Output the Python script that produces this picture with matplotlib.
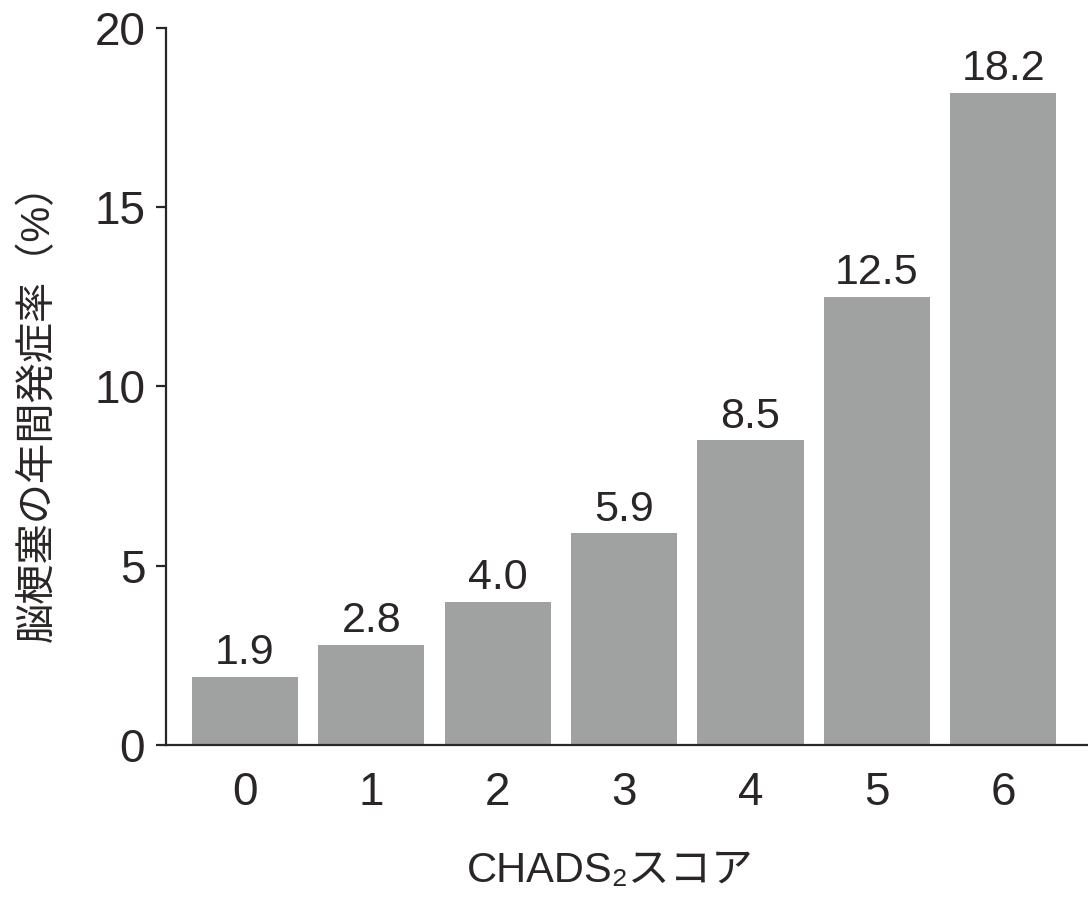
import matplotlib.pyplot as plt

# CHADS2 score vs annual stroke incidence
scores = ['0', '1', '2', '3', '4', '5', '6']
rates = [1.9, 2.8, 4.0, 5.9, 8.5, 12.5, 18.2]
yticks = [0, 5, 10, 15, 20]

plt.rcParams['font.family'] = ['Liberation Sans', 'Noto Sans CJK JP', 'DejaVu Sans']
ink = '#2b2626'
bar_col = '#a0a2a1'

fig = plt.figure(figsize=(10.88, 8.97), dpi=100)
ax = fig.add_axes([0.1526, 0.1695, 0.8474, 0.7993])

x = range(len(scores))
ax.bar(x, rates, width=0.84, color=bar_col)
for xi, r in zip(x, rates):
    ax.text(xi, r + 0.1, f'{r:.1f}', ha='center', va='bottom', fontsize=31, color=ink)

ax.set_xlim(-0.625, 6.67)
ax.set_ylim(0, 20)
ax.set_yticks(yticks)
ax.set_xticks(list(x))
ax.set_xticklabels(scores)

ax.spines['top'].set_visible(False)
ax.spines['right'].set_visible(False)
for s in ('left', 'bottom'):
    ax.spines[s].set_linewidth(1.6)
    ax.spines[s].set_color(ink)

ax.tick_params(axis='y', length=7, width=1.6, color=ink, labelsize=33, labelcolor=ink, pad=8)
ax.tick_params(axis='x', length=0, labelsize=33, labelcolor=ink, pad=19)

ax.set_ylabel('脳梗塞の年間発症率（%）', fontsize=29, color=ink)
ax.yaxis.set_label_coords(-0.118, 0.477)
ax.set_xlabel('CHADS₂スコア', fontsize=30, color=ink)
ax.xaxis.set_label_coords(0.4816, -0.148)

fig.savefig('out.png', dpi=100)
